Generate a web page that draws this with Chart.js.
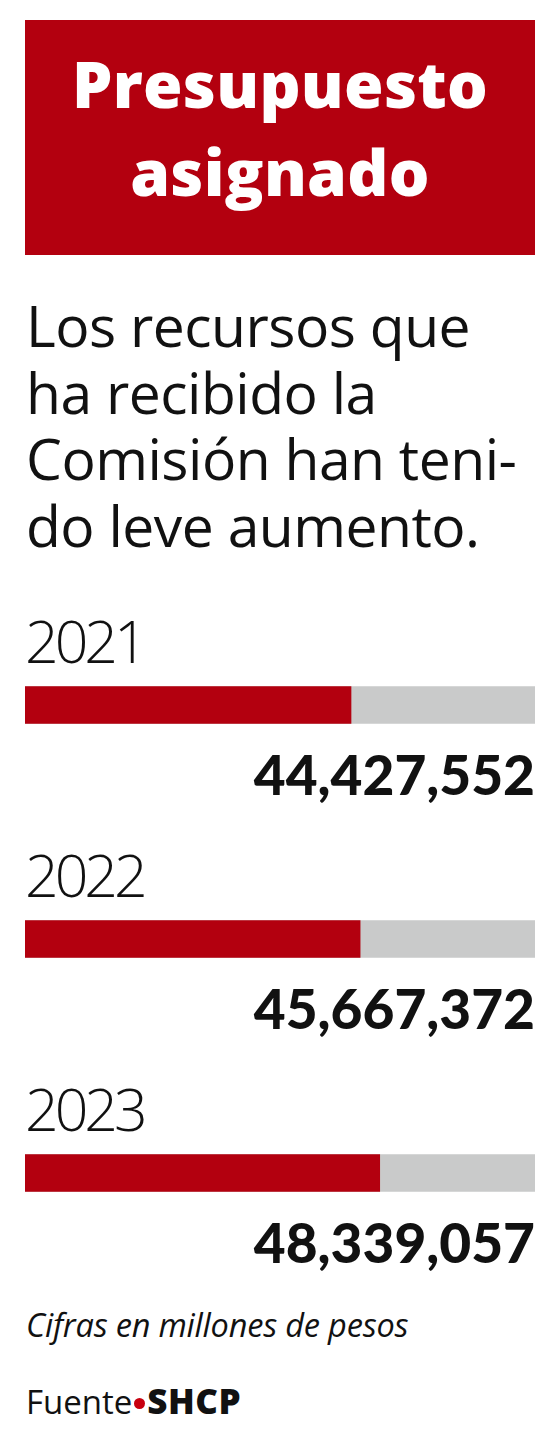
<!DOCTYPE html>
<html>
<head>
<meta charset="utf-8">
<script src="https://cdn.jsdelivr.net/npm/chart.js@4"></script>
<style>
  html, body { margin: 0; padding: 0; background: #fff; }
  body { width: 560px; height: 1431px; position: relative; overflow: hidden; font-family: "Open Sans", sans-serif; color: #111; }
  .header {
    position: absolute; left: 25px; top: 20px; width: 510px; height: 235px;
    background: #b3000f; color: #fff; text-align: center;
    font-family: "Open Sans", sans-serif; font-weight: 800; font-size: 64px;
    line-height: 88px; letter-spacing: 0.3px; box-sizing: border-box; padding-top: 20px;
  }
  .lead {
    position: absolute; left: 26px; top: 292px; width: 534px;
    font-family: "Open Sans", sans-serif; font-weight: 400; font-size: 57px;
    line-height: 66.7px; letter-spacing: -0.5px; white-space: nowrap;
  }
  .note {
    position: absolute; left: 26px; top: 1302px; white-space: nowrap;
    font-family: "Open Sans", sans-serif; font-style: italic; font-size: 32.5px; letter-spacing: -0.2px;
  }
  .source {
    position: absolute; left: 26px; top: 1377px; white-space: nowrap;
    font-family: "Open Sans", sans-serif; font-size: 33px; letter-spacing: 0;
  }
  .source b { font-weight: 800; font-size: 35px; letter-spacing: 0.5px; }
  .source .dot {
    display: inline-block; width: 11px; height: 11px; border-radius: 50%;
    background: #c8000f; vertical-align: 5px; margin: 0 2px 0 2px;
  }
  #wrap { position: absolute; left: 0; top: 588px; width: 560px; height: 702px; }
</style>
</head>
<body>
<div class="header">Presupuesto<br>asignado</div>
<div class="lead">Los recursos que<br>ha recibido la<br>Comisión han teni-<br>do leve aumento.</div>
<div id="wrap"><canvas id="chart"></canvas></div>
<div class="note">Cifras en millones de pesos</div>
<div class="source">Fuente<span class="dot"></span><b>SHCP</b></div>

<script>
// data
const years = ["2021", "2022", "2023"];
const amounts = [44427552, 45667372, 48339057];
const scaleMax = 69500000;
const track = [scaleMax, scaleMax, scaleMax];

const RED = "#b3000f";
const GRAY = "#c9caca";

// draws the year above each bar and the amount below it
const barLabels = {
  id: "barLabels",
  afterDatasetsDraw(chart) {
    const ctx = chart.ctx;
    const meta = chart.getDatasetMeta(0);
    const area = chart.chartArea;
    ctx.save();
    meta.data.forEach((bar, i) => {
      const top = bar.y - bar.height / 2;
      const bottom = bar.y + bar.height / 2;
      ctx.fillStyle = "#111";
      ctx.textAlign = "left";
      ctx.textBaseline = "alphabetic";
      ctx.font = "300 59px 'Open Sans'";
      ctx.letterSpacing = "-4px";
      ctx.fillText(years[i], area.left, top - 24);
      ctx.textAlign = "right";
      ctx.font = "900 55px Lato";
      ctx.letterSpacing = "0px";
      ctx.fillText(amounts[i].toLocaleString("en-US"), area.right, bottom + 71);
    });
    ctx.restore();
  },
};

new Chart(document.getElementById("chart"), {
  type: "bar",
  data: {
    labels: years,
    datasets: [
      {
        data: amounts,
        backgroundColor: RED,
        barThickness: 37,
        grouped: false,
        order: 0,
      },
      {
        data: track,
        backgroundColor: GRAY,
        barThickness: 37,
        grouped: false,
        order: 1,
      },
    ],
  },
  options: {
    indexAxis: "y",
    responsive: true,
    maintainAspectRatio: false,
    animation: false,
    layout: { padding: { left: 25, right: 25, top: 0, bottom: 0 } },
    plugins: { legend: { display: false }, tooltip: { enabled: false } },
    scales: {
      x: { display: false, min: 0, max: scaleMax },
      y: { display: false },
    },
  },
  plugins: [barLabels],
});
</script>
</body>
</html>
